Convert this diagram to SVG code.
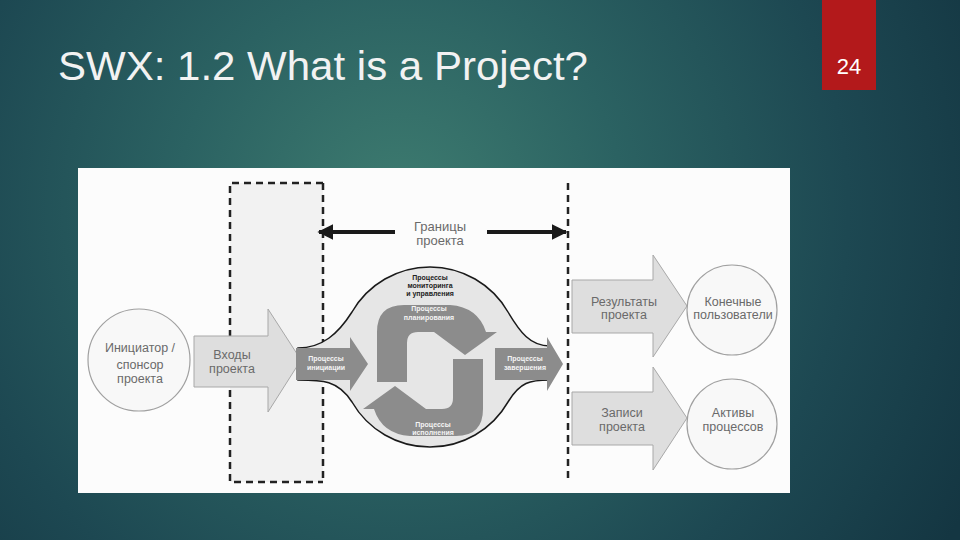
<svg xmlns="http://www.w3.org/2000/svg" width="960" height="540" viewBox="0 0 960 540">
<defs>
<radialGradient id="bg" cx="400" cy="210" r="640" gradientUnits="userSpaceOnUse">
<stop offset="0" stop-color="#3e7c70"/>
<stop offset="0.35" stop-color="#2b6262"/>
<stop offset="0.7" stop-color="#1d4852"/>
<stop offset="1" stop-color="#143642"/>
</radialGradient>
<marker id="ah" viewBox="0 0 10 10" refX="9" refY="5" markerWidth="4" markerHeight="4.4" orient="auto-start-reverse" markerUnits="strokeWidth">
<path d="M0,0 L10,5 L0,10 Z" fill="#1a1a1a"/>
</marker>
<style>
.lbl{font-family:"Liberation Sans",Arial,sans-serif;font-size:12.5px;fill:#6a6a6a;text-anchor:middle}
.wt{font-family:"Liberation Sans",Arial,sans-serif;font-size:7px;font-weight:bold;fill:#f4f4f4;text-anchor:middle}
.bt{font-family:"Liberation Sans",Arial,sans-serif;font-size:7px;font-weight:bold;fill:#222;text-anchor:middle}
.harrow{fill:#dedede;stroke:#a8a8a8;stroke-width:1}
.node{fill:#f8f8f8;stroke:#a0a0a0;stroke-width:1.2}
.gp{fill:#8c8c8c}
.dash{fill:none;stroke:#222;stroke-width:2.5;stroke-dasharray:7 5}
</style>
</defs>
<rect x="0" y="0" width="960" height="540" fill="url(#bg)"/>
<rect x="822" y="0" width="54" height="90" fill="#b3191b"/>
<text x="849" y="74" font-family="Liberation Sans, Arial, sans-serif" font-size="22" fill="#ffffff" text-anchor="middle">24</text>
<text x="58" y="80" font-family="Liberation Sans, Arial, sans-serif" font-size="40" fill="#f2f2f2" textLength="530" lengthAdjust="spacingAndGlyphs">SWX: 1.2 What is a Project?</text>

<rect x="78" y="168" width="712" height="325" fill="#fcfcfc"/>

<g id="boundary">
<rect x="230" y="183" width="93" height="299" fill="#f2f2f2" stroke="none"/>
<path class="dash" d="M323,183 L230,183 L230,482 L323,482"/>
<line class="dash" x1="323" y1="183" x2="323" y2="482"/>
<line class="dash" x1="568" y1="183" x2="568" y2="482"/>
<text class="lbl" x="440" y="231" style="font-size:13px">Границы</text>
<text class="lbl" x="440" y="245" style="font-size:13px">проекта</text>
</g>

<g id="connectors">
<line x1="395" y1="232" x2="319" y2="232" stroke="#1a1a1a" stroke-width="4" marker-end="url(#ah)"/>
<line x1="487" y1="232" x2="566" y2="232" stroke="#1a1a1a" stroke-width="4" marker-end="url(#ah)"/>
</g>

<g id="sponsor">
<circle class="node" cx="139" cy="360" r="51"/>
<text class="lbl" x="140" y="352">Инициатор /</text>
<text class="lbl" x="140" y="369">спонсор</text>
<text class="lbl" x="140" y="383">проекта</text>
</g>

<g id="inputs">
<path class="harrow" d="M194,336 L268,336 L268,309 L301,360 L268,412 L268,387 L194,387 Z"/>
<text class="lbl" x="232" y="359">Входы</text>
<text class="lbl" x="232" y="373">проекта</text>
</g>

<g id="process-group">
<path d="M298,348 C322,348 338,334 352,312 A90,90 0 0 1 508,312 C520,332 530,346 550,346 L550,380 C530,380 520,382 508,402 A90,90 0 0 1 352,402 C338,380 322,380 298,380 Z" fill="#e6e6e6" stroke="#1a1a1a" stroke-width="1.5"/>
<text class="bt" x="430" y="280">Процессы</text>
<text class="bt" x="430" y="288">мониторинга</text>
<text class="bt" x="430" y="296">и управления</text>
</g>

<g id="planning">
<path class="gp" d="M377,382 L377,332 Q377,305 404,305 L450,305 Q478,307 486,332 L497,332 L465,355 L434,332 L418,332 Q407,332 407,343 L407,382 Z"/>
<text class="wt" x="429" y="311">Процессы</text>
<text class="wt" x="429" y="320">планирования</text>
</g>

<g id="execution">
<path class="gp" transform="rotate(180 430 370.5)" d="M377,382 L377,332 Q377,305 404,305 L450,305 Q478,307 486,332 L497,332 L465,355 L434,332 L418,332 Q407,332 407,343 L407,382 Z"/>
<text class="wt" x="433" y="427">Процессы</text>
<text class="wt" x="433" y="435">исполнения</text>
</g>

<g id="initiating">
<path class="gp" d="M296,348 L350,348 L350,337 L368,364 L350,391 L350,380 L296,380 Z"/>
<text class="wt" x="326" y="361">Процессы</text>
<text class="wt" x="326" y="370">инициации</text>
</g>

<g id="closing">
<path class="gp" d="M495,348 L547,348 L547,337 L563,364 L547,391 L547,380 L495,380 Z"/>
<text class="wt" x="525" y="361">Процессы</text>
<text class="wt" x="525" y="370">завершения</text>
</g>

<g id="deliverables">
<path class="harrow" d="M572,280 L653,280 L653,255 L687,306 L653,357 L653,333 L572,333 Z"/>
<text class="lbl" x="624" y="306">Результаты</text>
<text class="lbl" x="624" y="319">проекта</text>
</g>

<g id="end-users">
<circle class="node" cx="732" cy="310" r="45"/>
<text class="lbl" x="733" y="306">Конечные</text>
<text class="lbl" x="733" y="319">пользователи</text>
</g>

<g id="records">
<path class="harrow" d="M572,392 L653,392 L653,367 L687,418 L653,470 L653,445 L572,445 Z"/>
<text class="lbl" x="622" y="417">Записи</text>
<text class="lbl" x="622" y="431">проекта</text>
</g>

<g id="assets">
<circle class="node" cx="732" cy="424" r="45"/>
<text class="lbl" x="733" y="417">Активы</text>
<text class="lbl" x="733" y="431">процессов</text>
</g>
</svg>
